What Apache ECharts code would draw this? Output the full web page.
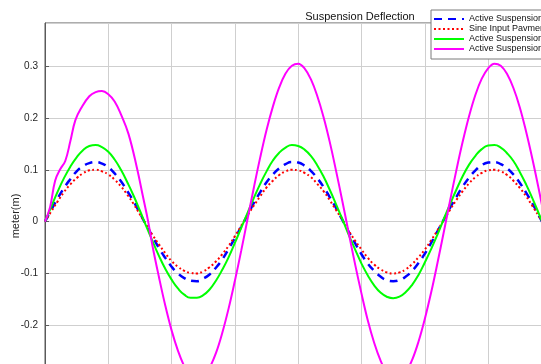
<!DOCTYPE html>
<html>
<head>
<meta charset="utf-8">
<script src="https://cdn.jsdelivr.net/npm/echarts/dist/echarts.min.js"></script>
<style>
  html, body {margin: 0; padding: 0; background: #fff;}
  #main {width: 541px; height: 364px;}
</style>
</head>
<body>
<div id="main"></div>
<script>
// time (s), read every 0.1 s
var time = [0, 0.1, 0.2, 0.3, 0.4, 0.5, 0.6, 0.7, 0.8, 0.9, 1.0, 1.1, 1.2, 1.3, 1.4, 1.5, 1.6, 1.7, 1.8, 1.9,
    2.0, 2.1, 2.2, 2.3, 2.4, 2.5, 2.6, 2.7, 2.8, 2.9, 3.0, 3.1, 3.2, 3.3, 3.4, 3.5, 3.6, 3.7, 3.8, 3.9,
    4.0, 4.1, 4.2, 4.3, 4.4, 4.5, 4.6, 4.7, 4.8, 4.9, 5.0, 5.1, 5.2, 5.3, 5.4, 5.5, 5.6, 5.7, 5.8, 5.9,
    6.0, 6.1, 6.2, 6.3, 6.4, 6.5, 6.6, 6.7, 6.8, 6.9, 7.0, 7.1, 7.2, 7.3, 7.4, 7.5, 7.6, 7.7, 7.8, 7.9, 8.0]
var activeA = [0, 0.023, 0.045, 0.065, 0.082, 0.097, 0.107, 0.113, 0.115, 0.112, 0.105, 0.093, 0.078, 0.059, 0.039, 0.016, -0.007, -0.029, -0.051, -0.070,
    -0.087, -0.100, -0.109, -0.114, -0.115, -0.110, -0.102, -0.089, -0.073, -0.053, -0.032, -0.010, 0.013, 0.036, 0.057, 0.076, 0.091, 0.103, 0.111, 0.115,
    0.114, 0.108, 0.098, 0.084, 0.067, 0.047, 0.026, 0.003, -0.020, -0.042, -0.063, -0.081, -0.095, -0.106, -0.113, -0.115, -0.113, -0.106, -0.095, -0.080,
    -0.062, -0.041, -0.019, 0.004, 0.027, 0.048, 0.068, 0.085, 0.099, 0.109, 0.114, 0.115, 0.111, 0.103, 0.091, 0.075, 0.056, 0.035, 0.012, -0.011, -0.033]
var sineInput = [0, 0.020, 0.039, 0.057, 0.072, 0.084, 0.093, 0.099, 0.100, 0.097, 0.091, 0.081, 0.068, 0.052, 0.034, 0.014, -0.006, -0.026, -0.044, -0.061,
    -0.076, -0.087, -0.095, -0.099, -0.100, -0.096, -0.088, -0.077, -0.063, -0.047, -0.028, -0.008, 0.012, 0.031, 0.049, 0.066, 0.079, 0.090, 0.097, 0.100,
    0.099, 0.094, 0.086, 0.073, 0.059, 0.041, 0.022, 0.003, -0.018, -0.037, -0.054, -0.070, -0.083, -0.092, -0.098, -0.100, -0.098, -0.092, -0.082, -0.069,
    -0.054, -0.036, -0.017, 0.003, 0.023, 0.042, 0.059, 0.074, 0.086, 0.094, 0.099, 0.100, 0.097, 0.090, 0.079, 0.065, 0.049, 0.030, 0.011, -0.009, -0.029]
var activeB = [0, 0.029, 0.058, 0.084, 0.106, 0.124, 0.138, 0.146, 0.148, 0.144, 0.135, 0.120, 0.100, 0.076, 0.050, 0.021, -0.009, -0.038, -0.066, -0.091,
    -0.112, -0.129, -0.141, -0.147, -0.147, -0.142, -0.131, -0.114, -0.093, -0.069, -0.041, -0.012, 0.017, 0.046, 0.073, 0.097, 0.118, 0.133, 0.143, 0.148,
    0.146, 0.139, 0.127, 0.109, 0.087, 0.061, 0.033, 0.004, -0.026, -0.054, -0.081, -0.104, -0.123, -0.137, -0.145, -0.148, -0.145, -0.136, -0.122, -0.103,
    -0.079, -0.053, -0.025, 0.005, 0.034, 0.062, 0.088, 0.110, 0.127, 0.140, 0.147, 0.148, 0.143, 0.132, 0.117, 0.096, 0.072, 0.045, 0.016, -0.014, -0.043]

// magenta trace: start transient read at its own times, then every 0.1 s from 1.7 s
var timeC0 = [0, 0.08, 0.16, 0.24, 0.32, 0.40, 0.48, 0.58, 0.70, 0.80, 0.90, 1.00, 1.10, 1.20, 1.32, 1.45, 1.55, 1.63]
var activeC0 = [0, 0.028, 0.079, 0.101, 0.117, 0.155, 0.196, 0.221, 0.242, 0.250, 0.252, 0.246, 0.232, 0.207, 0.169, 0.105, 0.047, 0]
var activeC = [-0.048, -0.107, -0.162,
    -0.210, -0.249, -0.279, -0.298, -0.305, -0.300, -0.282, -0.254, -0.215, -0.168, -0.114, -0.056, 0.005, 0.066, 0.124, 0.177, 0.222, 0.259, 0.286, 0.301,
    0.305, 0.296, 0.275, 0.243, 0.202, 0.153, 0.097, 0.038, -0.023, -0.083, -0.139, -0.191, -0.234, -0.268, -0.292, -0.303, -0.303, -0.291, -0.267, -0.232,
    -0.188, -0.137, -0.080, -0.020, 0.041, 0.100, 0.155, 0.204, 0.245, 0.276, 0.296, 0.305, 0.301, 0.285, 0.258, 0.221, 0.174, 0.121, 0.063, 0.002, -0.058]

var names = ["Active Suspension 1", "Sine Input Pavment", "Active Suspension 2", "Active Suspension 3"]
var yRange = [-0.3, 0.3835] // labels every 0.1

function pairs(t, v) { return t.map(function(x, i) { return [x, v[i]] }) }

var font = "Liberation Sans, Arial, sans-serif", ink = "#262626"
var chart = echarts.init(document.getElementById("main"), null, {renderer: "canvas"})
chart.setOption({
    animation: false, backgroundColor: "#fff",
    // plot box runs past the right and bottom edges of the picture
    grid: {left: 45, right: -137, top: 23, bottom: -13, outerBoundsMode: "none", containLabel: false,
        show: true, borderColor: "#5a5a5a", borderWidth: 1, backgroundColor: "#fff"},
    xAxis: {type: "value", min: 0, max: 10, interval: 1,
        axisLine: {show: false}, axisTick: {show: false}, axisLabel: {show: false},
        splitLine: {show: true, lineStyle: {color: "#cfcfcf", width: 1}}},
    yAxis: {type: "value", min: yRange[0], max: yRange[1], interval: 0.1,
        axisLine: {show: true, lineStyle: {color: "#5a5a5a"}},
        axisTick: {show: true, inside: true, length: 4, lineStyle: {color: "#5a5a5a"}},
        axisLabel: {showMaxLabel: false, color: ink, fontFamily: font, fontSize: 10, margin: 7,
            formatter: function(v) { return +v.toFixed(1) + "" }},
        splitLine: {show: true, lineStyle: {color: "#cfcfcf", width: 1}}},
    legend: {orient: "vertical", left: 431, top: 10, padding: [4, 40, 5, 2], itemWidth: 30, itemHeight: 8, itemGap: 0,
        backgroundColor: "#fff", borderColor: "#7a7a7a", borderWidth: 1, data: names,
        itemStyle: {opacity: 0, borderWidth: 0},
        textStyle: {fontFamily: font, fontSize: 9, lineHeight: 10, color: "#111"}},
    graphic: [
        {type: "text", x: 360, y: 17, style: {text: "Suspension Deflection", fontFamily: font, fontSize: 11, fill: "#111", align: "center", verticalAlign: "middle"}},
        {type: "text", x: 16, y: 216, rotation: Math.PI / 2, style: {text: "meter(m)", fontFamily: font, fontSize: 11, fill: ink, align: "center", verticalAlign: "middle"}},
    ],
    series: [
        {name: names[0], type: "line", data: pairs(time, activeA), symbol: "none", smooth: true,
            lineStyle: {color: "#0000ff", width: 2.5, type: [8, 6]}, itemStyle: {color: "#0000ff"}},
        {name: names[1], type: "line", data: pairs(time, sineInput), symbol: "none", smooth: true,
            lineStyle: {color: "#ff0000", width: 2, type: [2, 2.5]}, itemStyle: {color: "#ff0000"}},
        {name: names[2], type: "line", data: pairs(time, activeB), symbol: "none", smooth: true,
            lineStyle: {color: "#00ff00", width: 2}, itemStyle: {color: "#00ff00"}},
        {name: names[3], type: "line", data: pairs(timeC0.concat(time.slice(17)), activeC0.concat(activeC)), symbol: "none", smooth: 0.4,
            lineStyle: {color: "#ff00ff", width: 2}, itemStyle: {color: "#ff00ff"}},
    ],
})
</script>
</body>
</html>
